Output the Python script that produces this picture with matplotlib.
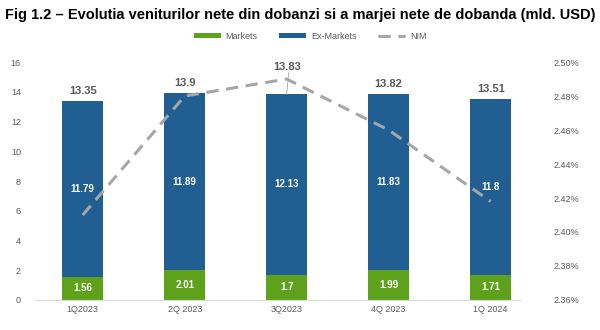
import numpy as np
import matplotlib.pyplot as plt
from matplotlib.ticker import FuncFormatter

plt.rcParams['font.family'] = ['Liberation Sans', 'DejaVu Sans']

# data
quarters = ['1Q2023', '2Q 2023', '3Q2023', '4Q 2023', '1Q 2024']
markets = [1.56, 2.01, 1.7, 1.99, 1.71]
ex_markets = [11.79, 11.89, 12.13, 11.83, 11.8]
totals = [13.35, 13.9, 13.83, 13.82, 13.51]
nim = [2.41, 2.48, 2.49, 2.46, 2.418]

green = '#5ea21c'
blue = '#215e92'
grey_txt = '#595959'

fig = plt.figure(figsize=(6, 3.3), dpi=100)
ax = fig.add_axes([0.058, 0.091, 0.809, 0.721])
x = np.arange(len(quarters))

b1 = ax.bar(x, markets, width=0.4, color=green, label='Markets', zorder=2)
b2 = ax.bar(x, ex_markets, width=0.4, bottom=markets, color=blue, label='Ex-Markets', zorder=2)

for i in range(len(x)):
    ax.text(x[i], markets[i] / 2, str(markets[i]), ha='center', va='center',
            color='white', fontsize=7, fontweight='bold', zorder=5)
    ax.text(x[i], markets[i] + ex_markets[i] / 2, str(ex_markets[i]), ha='center', va='center',
            color='white', fontsize=7, fontweight='bold', zorder=5)
    if i == 2:
        # label lifted above the line, with a leader
        ax.text(x[i], totals[i] + 1.5, str(totals[i]), ha='center', va='bottom',
                color=grey_txt, fontsize=8, fontweight='bold', zorder=5)
        ax.plot([x[i], x[i] + 0.02], [totals[i], totals[i] + 1.45], color='#a6a6a6', lw=0.6, zorder=5)
    else:
        ax.text(x[i], totals[i] + 0.35, str(totals[i]), ha='center', va='bottom',
                color=grey_txt, fontsize=8, fontweight='bold', zorder=5)

ax.set_ylim(0, 16)
ax.set_yticks(range(0, 17, 2))
ax.set_xlim(-0.47, 4.29)
ax.set_xticks(x)
ax.set_xticklabels(quarters)
ax.tick_params(axis='both', length=0, labelsize=6.5, colors=grey_txt)
ax.tick_params(axis='y', pad=10)
for s in ['top', 'right', 'left']:
    ax.spines[s].set_visible(False)
ax.spines['bottom'].set_color('#d9d9d9')

ax2 = ax.twinx()
ln, = ax2.plot(x, nim, color='#a6a6a6', lw=2.2, dashes=(4, 2.5), label='NIM', zorder=3)
ax2.set_ylim(2.36, 2.50)
ax2.set_yticks(np.arange(2.36, 2.501, 0.02))
ax2.yaxis.set_major_formatter(FuncFormatter(lambda v, p: '%.2f%%' % v))
ax2.tick_params(axis='y', length=0, labelsize=6.5, colors=grey_txt, pad=24)
for s in ['top', 'right', 'left', 'bottom']:
    ax2.spines[s].set_visible(False)
ax2.set_xlim(-0.47, 4.29)

fig.text(0.5, 0.975, 'Fig 1.2 \u2013 Evolutia veniturilor nete din dobanzi si a marjei nete de dobanda (mld. USD)',
         ha='center', va='top', fontsize=10.5, fontweight='bold')
fig.legend(handles=[b1, b2, ln], loc='center', bbox_to_anchor=(0.517, 0.89), ncol=3, frameon=False,
           fontsize=6.5, handlelength=3, handleheight=0.5, handletextpad=0.5,
           columnspacing=2.4, labelcolor=grey_txt)

fig.savefig('out.png')
